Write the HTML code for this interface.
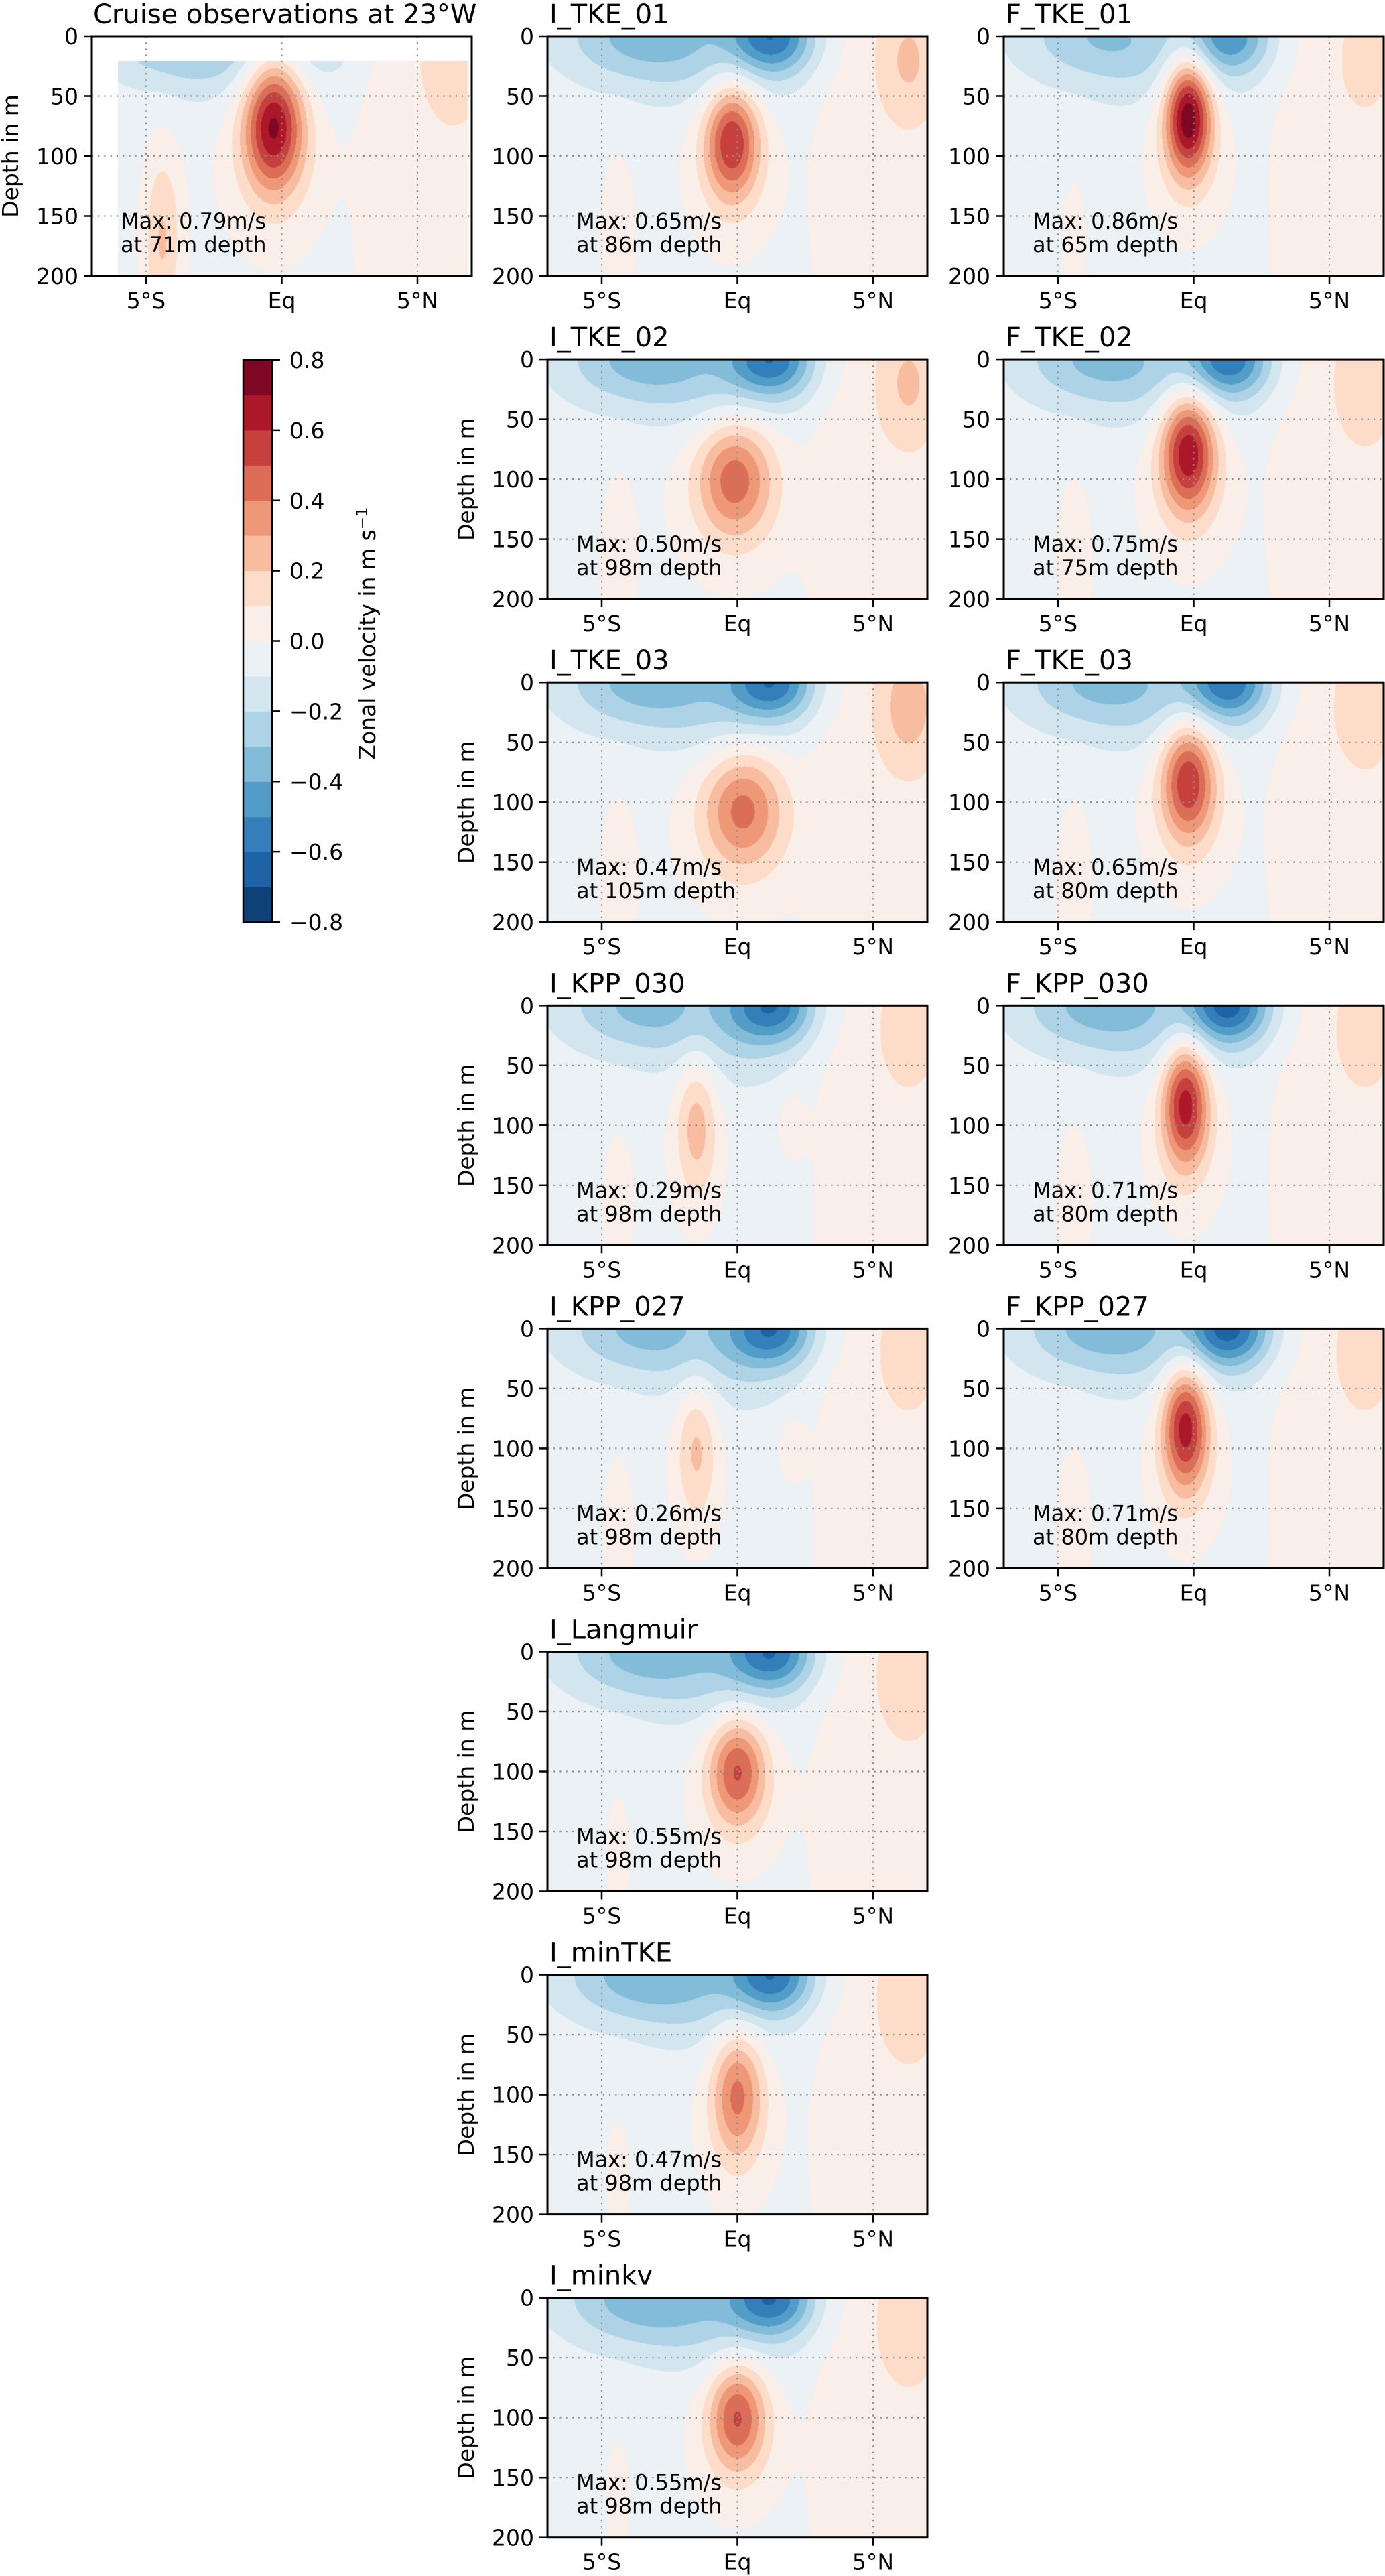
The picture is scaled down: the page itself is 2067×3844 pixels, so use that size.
<!DOCTYPE html>
<html><head><meta charset="utf-8">
<style>
html,body{margin:0;padding:0;background:#fff;}
#root{position:relative;width:2067px;height:3844px;overflow:hidden;background:#fff;font-family:"DejaVu Sans","Liberation Sans",sans-serif;}
canvas{position:absolute;}
svg{position:absolute;left:0;top:0;}
</style></head>
<body>
<div id="root">
<svg id="ov" width="2067" height="3844"></svg>
</div>
<script>
// ---- data ----
const panelTitles = ["Cruise observations at 23°W","I_TKE_01","F_TKE_01","I_TKE_02","F_TKE_02","I_TKE_03","F_TKE_03","I_KPP_030","F_KPP_030","I_KPP_027","F_KPP_027","I_Langmuir","I_minTKE","I_minkv"];
const panelRow = [0,0,0,1,1,2,2,3,3,4,4,5,6,7];
const panelCol = [0,1,2,1,2,1,2,1,2,1,2,1,1,1];
const maxVel = [0.79,0.65,0.86,0.50,0.75,0.47,0.65,0.29,0.71,0.26,0.71,0.55,0.47,0.55];
const maxDepth = [71,86,65,98,75,105,80,98,80,98,80,98,98,98];
const eucLon = [-0.3,-0.2,-0.2,-0.1,-0.2,0.2,-0.2,-1.5,-0.3,-1.5,-0.3,0.0,0.0,0.0];
const eucLonW = [1.1,1.0,0.85,1.4,1.0,1.5,1.0,0.75,0.85,0.75,0.85,1.05,0.95,1.05];
const eucDepW = [55,48,48,50,50,50,50,60,52,60,52,45,55,45];
const surfWest = [-0.3,-0.3,-0.25,-0.3,-0.28,-0.3,-0.28,-0.28,-0.3,-0.28,-0.3,-0.3,-0.32,-0.32];
const surfEq = [-0.12,-0.5,-0.4,-0.5,-0.5,-0.5,-0.5,-0.5,-0.55,-0.5,-0.55,-0.5,-0.5,-0.5];
const northPos = [0.16,0.18,0.1,0.18,0.15,0.22,0.15,0.13,0.13,0.13,0.13,0.16,0.16,0.16];
const southDeep = [0.25,0.1,0.06,0.1,0.1,0.1,0.1,0.08,0.1,0.08,0.1,0.06,0.06,0.06];
const xTickVals = [-5,0,5];
const xTickLabels = ["5°S","Eq","5°N"];
const yTickVals = [0,50,100,150,200];
const cbarTicks = [0.8,0.6,0.4,0.2,0.0,-0.2,-0.4,-0.6,-0.8];
const levels = [-0.8,-0.7,-0.6,-0.5,-0.4,-0.3,-0.2,-0.1,0,0.1,0.2,0.3,0.4,0.5,0.6,0.7,0.8];

// ---- layout ----
const AX_W=567, AX_H=358, ROW0=54, ROW_P=482.1, COLX=[137,817,1498];
const LON0=-7, LON1=7, Z0=0, Z1=200;
const NS="http://www.w3.org/2000/svg";
const ov=document.getElementById('ov');
const root=document.getElementById('root');

const anchors=[[5,48,97],[33,102,172],[67,147,195],[146,197,222],[209,229,240],[247,247,247],[253,219,199],[244,165,130],[214,96,77],[178,24,43],[103,0,31]];
function cmap(t){t=Math.max(0,Math.min(1,t));const p=t*10,i=Math.min(9,Math.floor(p)),f=p-i;const a=anchors[i],b=anchors[i+1];return [a[0]+(b[0]-a[0])*f,a[1]+(b[1]-a[1])*f,a[2]+(b[2]-a[2])*f].map(Math.round);}
const binColors=[];for(let k=0;k<16;k++)binColors.push(cmap((k+0.5)/16));
function colorFor(v){let k=Math.floor((v-levels[0])/0.1);k=Math.max(0,Math.min(15,k));return binColors[k];}

function g(lon,z,l0,z0,sl,sz){const a=(lon-l0)/sl,b=(z-z0)/sz;return Math.exp(-a*a-b*b);}
function field(p,lon,z){
  let v=-0.04+0.08/(1+Math.exp(-(lon-2.8)/0.4));
  const m=maxVel[p]*1.02;
  v+=m*0.86*g(lon,z,eucLon[p],maxDepth[p],eucLonW[p],eucDepW[p]);
  v+=m*0.16*g(lon,z,eucLon[p],maxDepth[p]+20,eucLonW[p]*1.9,eucDepW[p]*1.7);
  v+=surfWest[p]*g(lon,z,-3.5,0,3,40);
  v+=surfEq[p]*g(lon,z,1.3,0,1.6,32);
  v+=-0.12*g(lon,z,-0.5,30,2.6,50);
  v+=northPos[p]*g(lon,z,6.3,20,1.2,55);
  v+=southDeep[p]*g(lon,z,-4.4,170,0.7,75);
  if(p===7||p===9) v+=0.12*g(lon,z,2,100,0.5,25);
  return v;
}
function xs(c,lon){return COLX[c]+(lon-LON0)/(LON1-LON0)*AX_W;}
function ys(r,z){return ROW0+r*ROW_P+(z-Z0)/(Z1-Z0)*AX_H;}
function el(tag,attrs,parent){const e=document.createElementNS(NS,tag);for(const k in attrs)e.setAttribute(k,attrs[k]);(parent||ov).appendChild(e);return e;}

for(let p=0;p<panelTitles.length;p++){
  const r=panelRow[p],c=panelCol[p];
  const x0=COLX[c],y0=Math.round(ys(r,0));
  const cv=document.createElement('canvas');
  cv.width=AX_W;cv.height=AX_H;cv.style.left=x0+'px';cv.style.top=y0+'px';
  
  
  root.insertBefore(cv,ov);
  const ctx=cv.getContext('2d');const img=ctx.createImageData(AX_W,AX_H);
  for(let j=0;j<AX_H;j++){const z=Z0+(j+0.5)/AX_H*(Z1-Z0);
    for(let i=0;i<AX_W;i++){const lon=LON0+(i+0.5)/AX_W*(LON1-LON0);
      let col;
      if(p===0&&(z<20.5||lon<-6.03||lon>6.86))col=[255,255,255];
      else col=colorFor(field(p,lon,z));
      const o=(j*AX_W+i)*4;img.data[o]=col[0];img.data[o+1]=col[1];img.data[o+2]=col[2];img.data[o+3]=255;}}
  ctx.putImageData(img,0,0);

  const gr=el('g',{});
  
  
  for(const v of xTickVals){const x=xs(c,v);const l=el('line',{x1:x,x2:x,y1:ys(r,0),y2:ys(r,200),stroke:'#8c8c8c','stroke-width':2.2,'stroke-dasharray':'2.2 7'},gr);
    }
  for(const v of [50,100,150]){const y=ys(r,v);const l=el('line',{x1:x0,x2:x0+AX_W,y1:y,y2:y,stroke:'#8c8c8c','stroke-width':2.2,'stroke-dasharray':'2.2 7'},gr);
    }
  const fr=el('rect',{x:x0,y:ys(r,0),width:AX_W,height:AX_H,fill:'none',stroke:'#000','stroke-width':3},gr);
  
  for(const v of yTickVals){const y=ys(r,v);
    el('line',{x1:x0-12,x2:x0,y1:y,y2:y,stroke:'#000','stroke-width':2.5},gr);
    const t=el('text',{x:x0-20,y:y+12,'text-anchor':'end','font-size':33},gr);t.textContent=v;
    }
  for(let k=0;k<xTickVals.length;k++){const x=xs(c,xTickVals[k]);const yb=ys(r,200);
    el('line',{x1:x,x2:x,y1:yb,y2:yb+12,stroke:'#000','stroke-width':2.5},gr);
    const t=el('text',{x:x,y:yb+48,'text-anchor':'middle','font-size':33},gr);t.textContent=xTickLabels[k];
    }
  const tt=el('text',{x:x0+(p===0?2:3),y:ys(r,0)-19,'font-size':40},gr);tt.textContent=panelTitles[p];
  
  const a1=el('text',{x:x0+43,y:ys(r,0)+287,'font-size':32},gr);a1.textContent='Max: '+maxVel[p].toFixed(2)+'m/s';
  
  const a2=el('text',{x:x0+43,y:ys(r,0)+322,'font-size':32},gr);a2.textContent='at '+maxDepth[p]+'m depth';
  
  if(c===0||(c===1&&r>0)){const cx=x0-110,cy=ys(r,100);
    const yl=el('text',{x:cx,y:cy,'text-anchor':'middle','font-size':33,transform:'rotate(-90 '+cx+' '+cy+')'},gr);yl.textContent='Depth in m';
    }
}

// colorbar
const CB_X=363,CB_W=43,CB_T=537,CB_B=1376;
const cbg=el('g',{});

function cby(v){return CB_T+(0.8-v)/1.6*(CB_B-CB_T);}
for(let k=0;k<16;k++){const c=binColors[k];const ya=cby(levels[k+1]),yb=cby(levels[k]);
  const rc=el('rect',{x:CB_X,y:ya,width:CB_W,height:yb-ya+0.5,fill:'rgb('+c.join(',')+')'},cbg);
  }
el('rect',{x:CB_X,y:CB_T,width:CB_W,height:CB_B-CB_T,fill:'none',stroke:'#000','stroke-width':2.5},cbg);
for(const v of cbarTicks){const y=cby(v);
  el('line',{x1:CB_X+CB_W,x2:CB_X+CB_W+12,y1:y,y2:y,stroke:'#000','stroke-width':2.5},cbg);
  const t=el('text',{x:CB_X+CB_W+26,y:y+12,'font-size':33},cbg);t.textContent=(v<0?'\u2212':'')+Math.abs(v).toFixed(1);
  }
const cl=el('text',{x:560,y:945,'text-anchor':'middle','font-size':33,transform:'rotate(-90 560 945)'},cbg);
cl.innerHTML='Zonal velocity in m s<tspan dy="-12" font-size="23">\u22121</tspan>';

</script>
</body></html>
